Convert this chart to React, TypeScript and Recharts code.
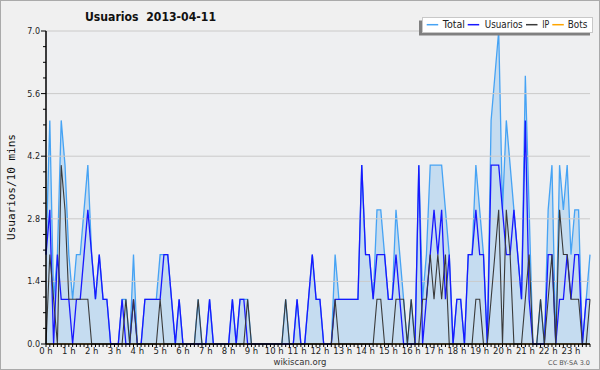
import React from 'react';
import { ComposedChart, Area, Line, XAxis, YAxis, CartesianGrid, ReferenceLine, Legend } from 'recharts';

const FONT = '"DejaVu Sans", "Noto Sans", sans-serif';

// one slot every 10 minutes, 0h .. 23h50
const hourLabels = [
  '0 h', '1 h', '2 h', '3 h', '4 h', '5 h', '6 h', '7 h', '8 h', '9 h', '10 h', '11 h',
  '12 h', '13 h', '14 h', '15 h', '16 h', '17 h', '18 h', '19 h', '20 h', '21 h', '22 h', '23 h',
];

const total = [
  2, 5, 1, 2, 5, 4, 2, 1, 2, 2, 3, 4,
  2, 1, 2, 1, 1, 0, 0, 0, 1, 1, 0, 2,
  0, 0, 1, 1, 1, 1, 2, 2, 2, 1, 0, 1,
  0, 0, 0, 0, 1, 0, 0, 1, 0, 0, 0, 0,
  0, 1, 0, 1, 1, 1, 0, 0, 0, 0, 0, 0,
  0, 0, 0, 1, 0, 0, 1, 0, 0, 1, 2, 1,
  1, 0, 0, 0, 2, 1, 1, 1, 1, 1, 1, 4,
  2, 2, 1, 3, 3, 2, 1, 1, 3, 2, 1, 0,
  1, 0, 4, 1, 2, 4, 4, 4, 4, 3, 2, 0,
  1, 1, 0, 2, 2, 4, 3, 2, 0, 5, 6, 7,
  3, 5, 4, 3, 2, 1, 6, 3, 0, 0, 1, 0,
  3, 4, 0, 4, 3, 4, 2, 3, 3, 0, 1, 2,
];

const usuarios = [
  2, 3, 0, 2, 1, 1, 1, 0, 1, 1, 2, 3,
  2, 1, 2, 1, 1, 0, 0, 0, 1, 0, 0, 1,
  0, 0, 1, 1, 1, 1, 1, 2, 2, 1, 0, 1,
  0, 0, 0, 0, 0, 0, 0, 1, 0, 0, 0, 0,
  0, 1, 0, 1, 1, 0, 0, 0, 0, 0, 0, 0,
  0, 0, 0, 0, 0, 0, 1, 0, 0, 1, 2, 1,
  1, 0, 0, 0, 1, 1, 1, 1, 1, 1, 1, 4,
  2, 2, 1, 2, 2, 2, 1, 1, 2, 1, 0, 0,
  0, 0, 4, 0, 1, 2, 3, 2, 3, 1, 2, 0,
  1, 1, 0, 2, 2, 3, 2, 2, 0, 4, 4, 4,
  3, 2, 2, 3, 2, 1, 5, 1, 0, 0, 0, 0,
  2, 2, 0, 1, 1, 2, 1, 2, 2, 0, 1, 1,
];

const ip = [
  0, 2, 1, 0, 4, 3, 1, 1, 1, 1, 1, 1,
  0, 0, 0, 0, 0, 0, 0, 0, 0, 1, 0, 1,
  0, 0, 0, 0, 0, 0, 1, 0, 0, 0, 0, 0,
  0, 0, 0, 0, 1, 0, 0, 0, 0, 0, 0, 0,
  0, 0, 0, 0, 0, 1, 0, 0, 0, 0, 0, 0,
  0, 0, 0, 1, 0, 0, 0, 0, 0, 0, 0, 0,
  0, 0, 0, 0, 1, 0, 0, 0, 0, 0, 0, 0,
  0, 0, 0, 1, 1, 0, 0, 0, 1, 1, 1, 0,
  1, 0, 0, 1, 1, 2, 1, 2, 1, 2, 0, 0,
  0, 0, 0, 0, 0, 1, 1, 0, 0, 1, 2, 3,
  0, 3, 2, 0, 0, 0, 1, 2, 0, 0, 1, 0,
  1, 2, 0, 3, 2, 2, 1, 1, 1, 0, 0, 1,
];

const bots = total.map(() => 0);

const yMajor = [0, 1.4, 2.8, 4.2, 5.6, 7.0];
const yTicks = [
  0, 0.35, 0.7, 1.05, 1.4, 1.75, 2.1, 2.45, 2.8, 3.15, 3.5,
  3.85, 4.2, 4.55, 4.9, 5.25, 5.6, 5.95, 6.3, 6.65, 7.0,
];

const legendItems = [
  { name: 'Total', color: '#46a3f4' },
  { name: 'Usuarios', color: '#1818ff' },
  { name: 'IP', color: '#3a3a3a' },
  { name: 'Bots', color: '#ffa500' },
];
// legend layout: line start, text start, text width (px inside the legend box)
const legendSlots = [
  { line: 7.7, text: 23.7, w: 22.3 },
  { line: 48.7, text: 65.7, w: 38 },
  { line: 107, text: 123.3, w: 7 },
  { line: 133.3, text: 148.7, w: 19.6 },
];

const data = total.map((t, i) => ({
  slot: i,
  total: t,
  usuarios: usuarios[i],
  ip: ip[i],
  bots: bots[i],
}));
const xTicks = data.map((d) => d.slot);

const XTick = ({ x, y, payload }: any) => {
  const v = payload.value;
  if (v % 6 !== 0) return <g />;
  return (
    <text x={x} y={y + 6.5} textAnchor="middle" fontSize={8.5} fill="#222"
      style={{ fontFamily: FONT }}>
      {hourLabels[v / 6]}
    </text>
  );
};

const YTick = ({ x, y, payload }: any) => {
  const v = payload.value;
  const major = yMajor.some((m) => Math.abs(m - v) < 1e-6);
  return (
    <g>
      <line x1={x - (major ? 5 : 3)} x2={x} y1={y} y2={y} stroke="#000" />
      {major && (
        <text x={x - 6} y={y + 3} textAnchor="end" fontSize={8} fill="#222"
          style={{ fontFamily: FONT }}>
          {v.toFixed(1)}
        </text>
      )}
    </g>
  );
};

const renderLegend = () => (
  <svg width={176} height={20} style={{ display: 'block' }}>
    <rect x={0} y={3.5} width={171} height={15} fill="#808080" />
    <rect x={3.5} y={0.5} width={170} height={15} fill="#fff" stroke="#c8c8c8" />
    {legendItems.map((it, k) => {
      const s = legendSlots[k];
      return (
        <g key={it.name}>
          <line x1={s.line} x2={s.line + 11.5} y1={7.7} y2={7.7} stroke={it.color} strokeWidth={1.5} />
          <text x={s.text} y={11.4} fontSize={10.5} fill="#222" textLength={s.w} lengthAdjust="spacingAndGlyphs"
            style={{ fontFamily: FONT }}>
            {it.name}
          </text>
        </g>
      );
    })}
  </svg>
);

export default function App() {
  return (
    <div style={{ position: 'absolute', left: 0, top: 0, width: 600, height: 370, background: '#f0f0f0', overflow: 'hidden' }}>
      <ComposedChart width={600} height={370} data={data}
        margin={{ top: 31, right: 10, left: 0, bottom: 0 }}>
        <CartesianGrid horizontal={false} vertical={false} fill="#eeeff1" fillOpacity={1} stroke="none" />
        <Area type="linear" dataKey="total" stroke="#46a3f4" strokeWidth={1.3} fill="#c5dcf0" fillOpacity={1}
          dot={false} activeDot={false} isAnimationActive={false} />
        {yMajor.slice(1).map((v) => (
          <ReferenceLine key={v} y={v} stroke="#cacaca" strokeWidth={1} />
        ))}
        <Line type="linear" dataKey="bots" stroke="#ffa500" strokeWidth={1} dot={false} activeDot={false} isAnimationActive={false} />
        <Line type="linear" dataKey="usuarios" stroke="#1818ff" strokeWidth={1.3} dot={false} activeDot={false} isAnimationActive={false} />
        <Line type="linear" dataKey="ip" stroke="#3a3a3a" strokeWidth={1.1} dot={false} activeDot={false} isAnimationActive={false} />
        <XAxis dataKey="slot" type="number" domain={[0, 143]} ticks={xTicks} interval={0} height={26}
          tickSize={3} tickMargin={0} tick={<XTick />} tickLine={{ stroke: '#000' }}
          axisLine={{ stroke: '#000', strokeWidth: 1.5 }} />
        <YAxis type="number" domain={[0, 7]} ticks={yTicks} interval={0} width={46}
          tickSize={0} tickMargin={0} tick={<YTick />} tickLine={false}
          axisLine={{ stroke: '#000', strokeWidth: 1.5 }} />
        <Legend content={renderLegend} layout="horizontal" verticalAlign="middle" align="center"
          wrapperStyle={{ top: 17, left: 419, width: 176, height: 20 }} />
      </ComposedChart>
      <svg width={600} height={370} style={{ position: 'absolute', left: 0, top: 0, pointerEvents: 'none' }}>
        <text x={85} y={20.7} fontSize={12.5} fontWeight="bold" fill="#111" textLength={131} lengthAdjust="spacingAndGlyphs"
          style={{ fontFamily: FONT, whiteSpace: 'pre' }}>
          Usuarios  2013-04-11
        </text>
        <text transform="rotate(-90)" x={-187} y={14.5} textAnchor="middle" fontSize={11} fill="#111"
          style={{ fontFamily: '"DejaVu Sans Mono", monospace' }}>
          Usuarios/10 mins
        </text>
        <text x={300} y={364.5} textAnchor="middle" fontSize={8.5} fill="#333"
          style={{ fontFamily: FONT }}>
          wikiscan.org
        </text>
        <text x={590} y={365} textAnchor="end" fontSize={6.5} fill="#555"
          style={{ fontFamily: FONT }}>
          CC BY-SA 3.0
        </text>
        <rect x={0.5} y={0.5} width={599} height={369} fill="none" stroke="#aaaaaa" />
      </svg>
    </div>
  );
}
